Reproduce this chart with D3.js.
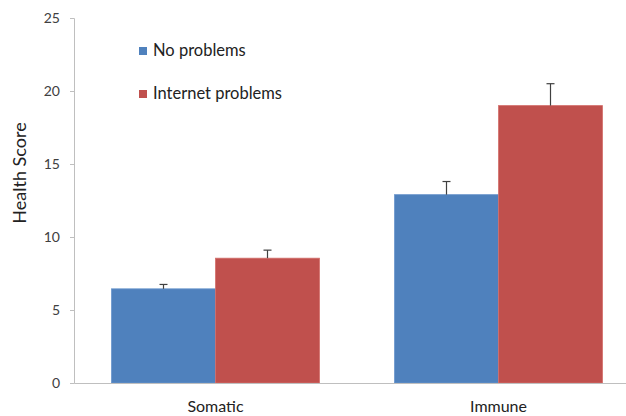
<!DOCTYPE html>
<html>
<head>
<meta charset="utf-8">
<script src="https://cdn.jsdelivr.net/npm/d3@7"></script>
<style>
  body { margin: 0; background: #fff; }
  text { font-family: Lato, "Open Sans", sans-serif; }
</style>
</head>
<body>
<svg id="chart" width="626" height="416"></svg>
<script>
// data
var categories = ["Somatic", "Immune"];
var seriesNames = ["No problems", "Internet problems"];
var noProblems = [6.45, 12.9];
var noProblemsErr = [0.3, 0.9];
var internetProblems = [8.55, 19.0];
var internetProblemsErr = [0.55, 1.5];
var yTicks = [0, 5, 10, 15, 20, 25];
var colors = ["#4f81bd", "#c0504d"];

var svg = d3.select("#chart"),
    marginTop = 18,
    marginBottom = 33,
    marginLeft = 74,
    width = +svg.attr("width"),
    height = +svg.attr("height");

var rows = [];
categories.forEach(function (c, i) {
  rows.push({cat: c, s: 0, v: noProblems[i], e: noProblemsErr[i]});
  rows.push({cat: c, s: 1, v: internetProblems[i], e: internetProblemsErr[i]});
});

var x0 = d3.scaleBand().domain(categories).range([marginLeft, marginLeft + 566]);
var x1 = d3.scaleBand().domain([0, 1]).range([37.5, x0.bandwidth() - 37.5]);
var y = d3.scaleLinear().domain([0, 25]).range([height - marginBottom, marginTop]);

// y axis
var yAxis = svg.append("g")
  .attr("transform", "translate(" + marginLeft + ",0)")
  .call(d3.axisLeft(y).tickValues(yTicks).tickSize(4).tickPadding(10));
yAxis.select(".domain").attr("stroke", "#bfbfbf");
yAxis.selectAll(".tick line").attr("stroke", "#bfbfbf");
yAxis.selectAll(".tick text").attr("fill", "#404040").style("font-size", "14px");

// bars
svg.append("g").selectAll("rect")
  .data(rows)
  .enter()
  .append("rect")
  .attr("x", function (d) { return x0(d.cat) + x1(d.s); })
  .attr("y", function (d) { return y(d.v); })
  .attr("width", x1.bandwidth())
  .attr("height", function (d) { return y(0) - y(d.v); })
  .attr("fill", function (d) { return colors[d.s]; })
  .attr("stroke", function (d) { return d.s == 0 ? "#6a96cc" : "#d46f6c"; })
  .attr("stroke-width", 0.8);

// error bars (upper only)
var eb = svg.append("g").selectAll("g")
  .data(rows)
  .enter()
  .append("g")
  .attr("stroke", "#404040")
  .attr("stroke-width", 1.2);
eb.append("line")
  .attr("x1", function (d) { return x0(d.cat) + x1(d.s) + x1.bandwidth() / 2; })
  .attr("x2", function (d) { return x0(d.cat) + x1(d.s) + x1.bandwidth() / 2; })
  .attr("y1", function (d) { return y(d.v); })
  .attr("y2", function (d) { return y(d.v + d.e); });
eb.append("line")
  .attr("x1", function (d) { return x0(d.cat) + x1(d.s) + x1.bandwidth() / 2 - 4; })
  .attr("x2", function (d) { return x0(d.cat) + x1(d.s) + x1.bandwidth() / 2 + 4; })
  .attr("y1", function (d) { return y(d.v + d.e); })
  .attr("y2", function (d) { return y(d.v + d.e); });

// x axis
var xAxis = svg.append("g")
  .attr("transform", "translate(0," + y(0) + ")")
  .call(d3.axisBottom(x0).tickSize(0).tickPadding(18));
xAxis.select(".domain").attr("stroke", "#bfbfbf");
xAxis.selectAll(".tick text").attr("fill", "#222").style("font-size", "16px");

// y label
svg.append("text")
  .attr("text-anchor", "middle")
  .attr("transform", "translate(26," + 173 + ")rotate(-90)")
  .style("font-size", "18px")
  .attr("fill", "#222")
  .text("Health Score");

// legend
var lg = svg.append("g").selectAll("g")
  .data(seriesNames)
  .enter()
  .append("g")
  .attr("transform", function (d, i) { return "translate(139," + (47 + i * 43) + ")"; });
lg.append("rect")
  .attr("width", 8).attr("height", 8)
  .attr("fill", function (d, i) { return colors[i]; });
lg.append("text")
  .attr("x", 14).attr("y", 9)
  .style("font-size", "16.5px")
  .attr("fill", "#222")
  .text(function (d) { return d; });
</script>
</body>
</html>
